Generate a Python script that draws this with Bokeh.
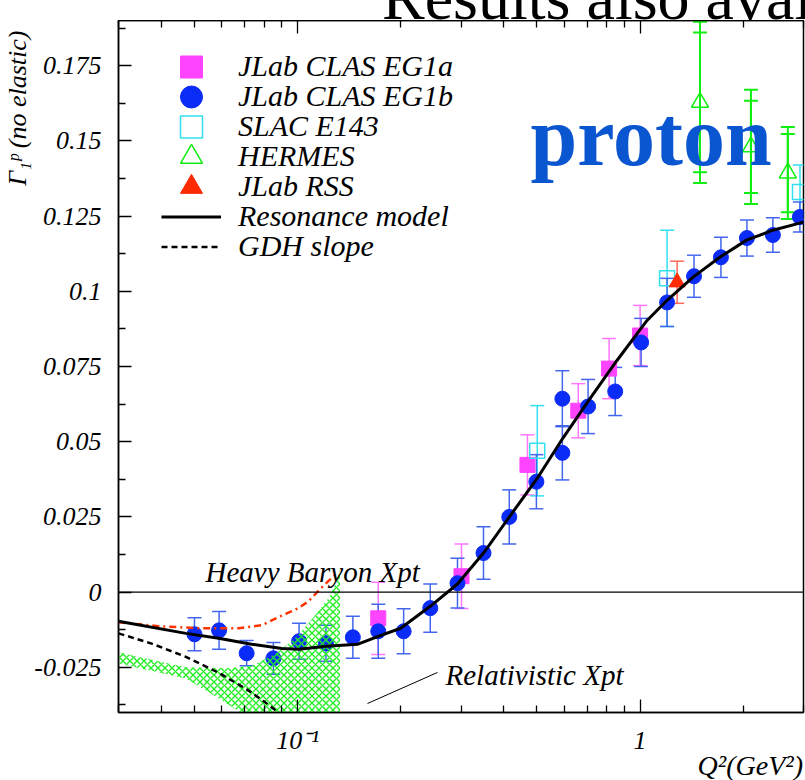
import numpy as np
from bokeh.plotting import figure
from bokeh.layouts import column
from bokeh.models import (ColumnDataSource, Whisker, TeeHead, Span, Label, Legend, LegendItem,
                          FixedTicker, LogAxis, NumeralTickFormatter, Arrow, Title, Div)
from bokeh.embed import file_html
from bokeh.resources import INLINE

SERIF = "Liberation Serif"

# ---------------- data ----------------
eg1b_q2 = [0.050, 0.059, 0.071, 0.085, 0.101, 0.121, 0.145, 0.172, 0.204, 0.244, 0.293, 0.349, 0.415,
           0.498, 0.593, 0.593, 0.705, 0.846, 1.007, 1.199, 1.437, 1.722, 2.051, 2.442, 2.928]
eg1b_g1 = [-0.0140, -0.0127, -0.0203, -0.0220, -0.0163, -0.0170, -0.0150, -0.0130, -0.0130, -0.0053,
           0.0030, 0.0130, 0.0250, 0.0367, 0.0643, 0.0463, 0.0617, 0.0667, 0.0830, 0.0963, 0.1050,
           0.1113, 0.1177, 0.1187, 0.1247]
eg1b_err = [0.0055, 0.0063, 0.0042, 0.0053, 0.0060, 0.0060, 0.0070, 0.0090, 0.0075, 0.0080, 0.0083,
            0.0087, 0.0090, 0.0090, 0.0093, 0.0090, 0.0090, 0.0080, 0.0080, 0.0080, 0.0070, 0.0067,
            0.0060, 0.0057, 0.0050]

eg1a_q2 = [0.172, 0.301, 0.469, 0.660, 0.812, 1.000]
eg1a_g1 = [-0.0087, 0.0053, 0.0423, 0.0603, 0.0743, 0.0853]
eg1a_err = [0.0120, 0.0107, 0.0100, 0.0090, 0.0100, 0.0100]

e143_q2 = [0.501, 1.199, 2.930]
e143_g1 = [0.0470, 0.1043, 0.1330]
e143_err = [0.0150, 0.0160, 0.0090]

hermes_q2 = [1.496, 2.107, 2.700]
hermes_g1 = [0.1628, 0.1480, 0.1393]
hermes_stat = [0.0232, 0.0153, 0.0130]
hermes_tot = [0.0268, 0.0190, 0.0153]

rss_q2 = [1.283]
rss_g1 = [0.1030]
rss_err = [0.0070]

model_q2 = [0.030, 0.0472, 0.0588, 0.0734, 0.090, 0.101, 0.121, 0.150, 0.172, 0.200, 0.244, 0.293,
            0.349, 0.417, 0.500, 0.596, 0.714, 0.856, 1.048, 1.199, 1.428, 1.709, 2.046, 2.440, 3.000]
model_g1 = [-0.0097, -0.0137, -0.0153, -0.0173, -0.0187, -0.0190, -0.0180, -0.0173, -0.0147, -0.0120,
            -0.0047, 0.0027, 0.0130, 0.0253, 0.0377, 0.0513, 0.0643, 0.0770, 0.0903, 0.0970, 0.1047,
            0.1113, 0.1170, 0.1203, 0.1230]

gdh_q2 = [0.030, 0.0375, 0.0472, 0.0588, 0.0706, 0.0785, 0.088, 0.095]
gdh_g1 = [-0.0137, -0.0171, -0.0215, -0.0268, -0.0321, -0.0357, -0.0400, -0.0432]

hbxpt_q2 = [0.030, 0.0393, 0.0515, 0.0673, 0.0785, 0.0923, 0.1007, 0.1077, 0.1170, 0.1273, 0.1310]
hbxpt_g1 = [-0.0100, -0.0113, -0.0120, -0.0120, -0.0110, -0.0072, -0.0053, -0.0030, 0.0013, 0.0053, 0.0063]

# relativistic chiPT band: upper edge (left->right), then lower edge (right->left)
rel_q2 = [0.030, 0.0375, 0.0472, 0.0629, 0.0734, 0.0863, 0.0990, 0.1120, 0.1240, 0.1310, 0.1330,
          0.1330, 0.0687, 0.0588, 0.0472, 0.030]
rel_g1 = [-0.0200, -0.0225, -0.0250, -0.0253, -0.0245, -0.0205, -0.0150, -0.0080, -0.0015, 0.0045, 0.0078,
          -0.0800, -0.0403, -0.0353, -0.0287, -0.0237]

x_major = [0.1, 1.0]
x_minor = [0.03, 0.04, 0.05, 0.06, 0.07, 0.08, 0.09, 0.2, 0.3, 0.4, 0.5, 0.6, 0.7, 0.8, 0.9, 2.0, 3.0]
y_major = [-0.025, 0.0, 0.025, 0.05, 0.075, 0.1, 0.125, 0.15, 0.175]
y_minor = [-0.0375, -0.0125, 0.0125, 0.0375, 0.0625, 0.0875, 0.1125, 0.1375, 0.1625, 0.1875]

legend_labels = ["JLab CLAS EG1a", "JLab CLAS EG1b", "SLAC E143", "HERMES", "JLab RSS",
                 "Resonance model", "GDH slope"]

# ---------------- layout constants ----------------
X0, X1 = 0.03, 3.0
Y0, Y1 = -0.04, 0.19
TOP_H = 20                      # strip holding the cut-off slide title
FL, FR, FT, FB = 118, 803, 21, 712
BOTTOM_PANEL = 46               # x tick labels below the frame
FIG_H = FB - TOP_H + BOTTOM_PANEL
BOT_H = 780 - TOP_H - FIG_H     # strip holding the x-axis title

def sx(px):
    return 10 ** (np.log10(X0) + (px - FL) / (FR - FL) * (np.log10(X1) - np.log10(X0)))

def sy(py):
    return Y0 + (FB - py) / (FB - FT) * (Y1 - Y0)

top_div = Div(
    text=('<div style="margin-left:382px; margin-top:-34px; font-family:\'Liberation Serif\'; '
          'font-size:64px; line-height:64px; white-space:nowrap; color:black;">'
          'Results also available</div>'),
    width=805, height=TOP_H, margin=0, styles={"overflow": "hidden"})

bottom_div = Div(
    text=('<div style="width:803px; text-align:right; font-family:\'Liberation Serif\'; '
          'font-style:italic; font-size:28px; line-height:16px; white-space:nowrap; color:black;">'
          'Q\u00b2(GeV\u00b2)</div>'),
    width=805, height=BOT_H, margin=0)

p = figure(width=805, height=FIG_H, x_axis_type="log", x_range=(X0, X1), y_range=(Y0, Y1),
           output_backend="svg", toolbar_location=None,
           min_border_left=FL, min_border_right=805 - FR, min_border_top=0, min_border_bottom=BOTTOM_PANEL)
p.title.text_font_size = "1px"
p.title.standoff = 0
p.background_fill_color = "white"
p.border_fill_color = "white"
p.grid.visible = False
p.outline_line_color = "black"
p.outline_line_width = 1.5

xt = FixedTicker(ticks=x_major, minor_ticks=x_minor)
xb = p.below[0]
xb.ticker = xt
xb.major_label_overrides = {0.1: "10\u207b\u00b9", 1.0: "1"}
yl = p.left[0]
yl.ticker = FixedTicker(ticks=y_major, minor_ticks=y_minor)
yl.formatter = NumeralTickFormatter(format="0.[000]")
for ax in (xb, yl):
    ax.axis_line_color = "black"
    ax.axis_line_width = 1.5
    ax.major_tick_in = 13
    ax.major_tick_out = 0
    ax.minor_tick_in = 7
    ax.minor_tick_out = 0
    ax.major_tick_line_width = 1.3
    ax.minor_tick_line_width = 1.3
    ax.major_label_text_font = SERIF
    ax.major_label_text_font_style = "italic"
    ax.major_label_text_font_size = "26px"
    ax.major_label_text_color = "black"
    ax.major_label_standoff = 17
xb.major_label_standoff = 13

top = LogAxis(ticker=xt, major_tick_in=13, major_tick_out=0, minor_tick_in=7, minor_tick_out=0,
              major_label_text_font_size="1px", major_label_text_alpha=0, major_label_standoff=0,
              axis_line_width=1.5, major_tick_line_width=1.3, minor_tick_line_width=1.3)
p.add_layout(top, "above")

# y-axis title, in the left side panel, aligned with the top of the axis
p.add_layout(Title(text="\u0393\u2081\u1d56 (no elastic)", align="right", text_font=SERIF,
                   text_font_style="italic", text_font_size="26px", text_color="black",
                   standoff=0, offset=10), "left")

p.add_layout(Span(location=0, dimension="width", line_color="black", line_width=1.3))

# ---------------- error bars ----------------
def bars(xs, ys, es, color, width=1.5, cap=14):
    src = ColumnDataSource(dict(x=xs, upper=[a + b for a, b in zip(ys, es)],
                                lower=[a - b for a, b in zip(ys, es)]))
    w = Whisker(source=src, base="x", upper="upper", lower="lower", line_color=color, line_width=width,
                upper_head=TeeHead(size=cap, line_color=color, line_width=width),
                lower_head=TeeHead(size=cap, line_color=color, line_width=width))
    p.add_layout(w)

bars(eg1a_q2, eg1a_g1, eg1a_err, "#ff77ff")
bars(e143_q2, e143_g1, e143_err, "#33e0f0")
bars(eg1b_q2, eg1b_g1, eg1b_err, "#4466ee")
bars(rss_q2, rss_g1, rss_err, "#ff6a5a")
bars(hermes_q2, hermes_g1, hermes_stat, "#11ee11", width=2)
bars(hermes_q2, hermes_g1, hermes_tot, "#11ee11", width=2)

# ---------------- markers ----------------
r_a = p.scatter(eg1a_q2, eg1a_g1, marker="square", size=15, fill_color="#ff44ff", line_color="#ff44ff")
r_e = p.scatter(e143_q2, e143_g1, marker="square", size=15, fill_color=None, line_color="#33e0f0", line_width=1.5)
r_b = p.scatter(eg1b_q2, eg1b_g1, marker="circle", size=15, fill_color="#0b2cf6", line_color="#0b2cf6")
r_r = p.scatter(rss_q2, rss_g1, marker="triangle", size=16, fill_color="#ff2a00", line_color="#ff2a00")
r_h = p.scatter(hermes_q2, hermes_g1, marker="triangle", size=17, fill_color=None, line_color="#11ee11", line_width=1.5)

# ---------------- theory ----------------
p.patch(rel_q2, rel_g1, fill_alpha=0, line_alpha=0, hatch_pattern="x", hatch_color="#22ee22",
        hatch_scale=7, hatch_weight=1.4, hatch_alpha=1)
p.line(hbxpt_q2, hbxpt_g1, line_color="#ff3300", line_width=2.5, line_dash="7 4 2 4")
r_m = p.line(model_q2, model_g1, line_color="black", line_width=3)
r_g = p.line(gdh_q2, gdh_g1, line_color="black", line_width=2.5, line_dash="6 4")

# ---------------- legend: one row per Legend so markers can be large with a 30px pitch --------
ROW0, PITCH, GH = 66, 30, 55
for i, (lab, r) in enumerate(zip(legend_labels, [r_a, r_b, r_e, r_h, r_r, r_m, r_g])):
    centre = ROW0 + PITCH * i
    lg = Legend(items=[LegendItem(label=lab, renderers=[r])],
                location=(161 - FL, FB - centre - GH / 2), glyph_width=60, glyph_height=GH,
                label_height=30, spacing=0, padding=0, margin=0, label_standoff=17,
                background_fill_alpha=0, border_line_alpha=0, label_text_color="black",
                label_text_font=SERIF, label_text_font_style="italic", label_text_font_size="30px")
    p.add_layout(lg)

# ---------------- texts inside the frame ----------------
def label(text, px, py, size, style="italic", color="black", align="left"):
    p.add_layout(Label(x=sx(px), y=sy(py), text=text, text_font=SERIF, text_font_style=style,
                       text_font_size=size, text_color=color, text_align=align,
                       text_baseline="alphabetic"))

label("proton", 530, 137, "84px", style="bold", color="#0a55d0")
label("Heavy Baryon Xpt", 205, 572, "29px")
label("Relativistic Xpt", 445, 675, "29px")

p.add_layout(Arrow(x_start=sx(367), y_start=sy(703), x_end=sx(437), y_end=sy(672), end=None,
                   line_color="black", line_width=1))

layout = column(top_div, p, bottom_div, spacing=0)
open("out.html", "w").write(file_html(layout, INLINE))
